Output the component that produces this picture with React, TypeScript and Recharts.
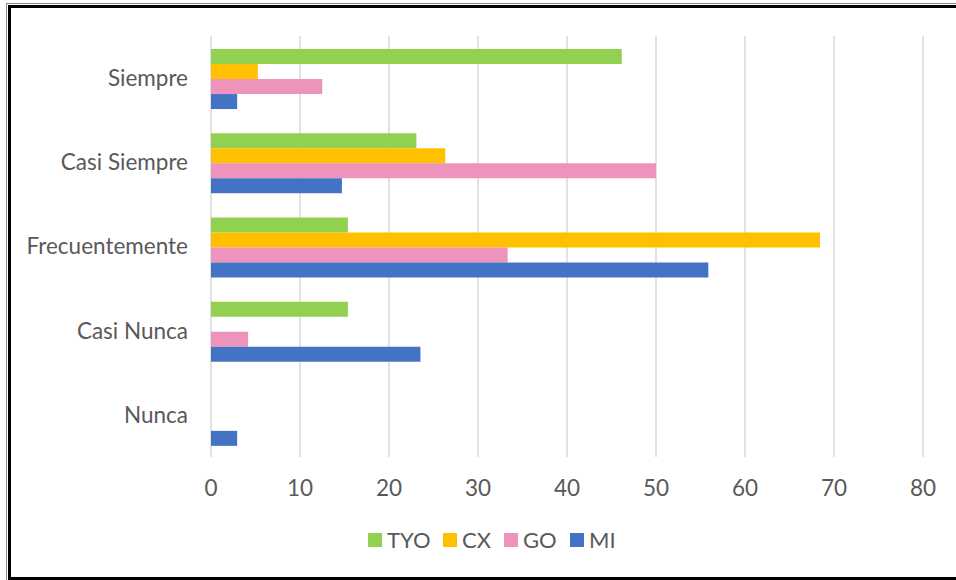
import { BarChart, Bar, XAxis, YAxis, CartesianGrid } from 'recharts'

// Response frequency per group (% of respondents)
const categories = ['Siempre', 'Casi Siempre', 'Frecuentemente', 'Casi Nunca', 'Nunca']
const tyo = [46.15, 23.08, 15.38, 15.38, 0]
const cx = [5.26, 26.32, 68.42, 0, 0]
const go = [12.5, 50, 33.33, 4.17, 0]
const mi = [2.94, 14.71, 55.88, 23.53, 2.94]
const xTicks = [0, 10, 20, 30, 40, 50, 60, 70, 80]

const series = [
  { key: 'TYO', color: '#92D050', x: 368 },
  { key: 'CX', color: '#FFC000', x: 443 },
  { key: 'GO', color: '#EE93BB', x: 504 },
  { key: 'MI', color: '#4472C4', x: 570 },
]

const FONT = 'Lato, "Open Sans", sans-serif'
const TEXT = '#595959'

export default function App() {
  const chartData = categories.map((name, i) => ({
    name,
    TYO: tyo[i],
    CX: cx[i],
    GO: go[i],
    MI: mi[i],
  }))

  return (
    <div style={{ position: 'absolute', left: 0, top: 0, width: 956, height: 580, background: '#fff', overflow: 'hidden', fontFamily: FONT }}>
      {/* frame: thin gray outer line with heavy black inner line */}
      <div style={{ position: 'absolute', left: 6, top: 3, width: 960, height: 577, borderLeft: '1px solid #8a8a8a', borderTop: '1px solid #8a8a8a', boxSizing: 'border-box' }} />
      <div style={{ position: 'absolute', left: 8, top: 5, width: 960, height: 575, borderLeft: '3px solid #000', borderTop: '3px solid #000', borderBottom: '3px solid #000', boxSizing: 'border-box' }} />

      <div style={{ position: 'absolute', left: 0, top: 0 }}>
        <BarChart
          width={956}
          height={580}
          data={chartData}
          layout="vertical"
          margin={{ top: 36, right: 33, bottom: 63, left: 0 }}
          barCategoryGap="15.5%"
          barGap={0}
        >
          <CartesianGrid horizontal={false} stroke="#d9d9d9" strokeWidth={1.5} />
          <XAxis
            type="number"
            domain={[0, 80]}
            ticks={xTicks}
            interval={0}
            height={60}
            axisLine={false}
            tickLine={false}
            tickSize={0}
            tickMargin={23}
            tick={{ fill: TEXT, fontSize: 22.5, fontFamily: FONT }}
          />
          <YAxis
            type="category"
            dataKey="name"
            width={211}
            axisLine={false}
            tickLine={false}
            tickSize={0}
            tickMargin={23}
            tick={{ fill: TEXT, fontSize: 22.5, fontFamily: FONT }}
          />
          {series.map(s => (
            <Bar key={s.key} dataKey={s.key} fill={s.color} isAnimationActive={false} />
          ))}
        </BarChart>
      </div>

      {series.map(s => (
        <div key={s.key} style={{ position: 'absolute', top: 526, left: s.x, display: 'flex', alignItems: 'center', gap: 5, fontSize: 22, color: TEXT }}>
          <span style={{ display: 'inline-block', width: 14, height: 14, background: s.color }} />
          <span>{s.key}</span>
        </div>
      ))}
    </div>
  )
}
